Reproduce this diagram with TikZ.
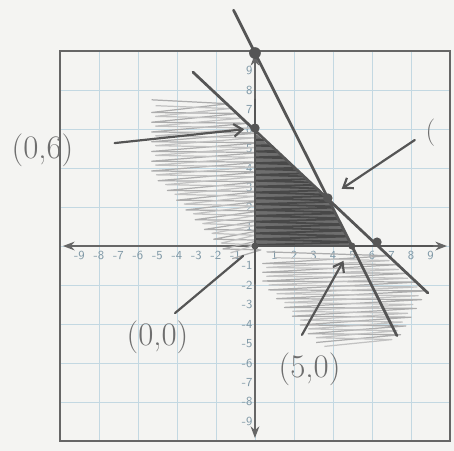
\documentclass[tikz,border=0pt]{standalone}
\usepackage{tikz}
\usetikzlibrary{arrows.meta,positioning,calc}
\definecolor{paper}{HTML}{F4F4F2}
\definecolor{gridblue}{HTML}{C3D8E2}
\definecolor{ticklbl}{HTML}{7F98A6}
\definecolor{pencil}{HTML}{555555}
\definecolor{lightpencil}{HTML}{ADADAD}

\begin{document}
\begin{tikzpicture}[
  x=0.5cm, y=0.5cm,
  font=\sffamily,
  pencil/.style={draw=pencil, line width=2pt, line cap=round},
  scrib/.style={draw=lightpencil, line width=0.9pt, line join=round},
  darkscrib/.style={draw=pencil!85!black, line width=1.3pt, line join=round},
  dot/.style={circle, fill=pencil, inner sep=0pt, minimum size=2.4mm},
  tick/.style={text=ticklbl, font=\sffamily\fontsize{9}{10}\selectfont, inner sep=1pt},
  hand/.style={text=pencil!85, font=\fontsize{24}{28}\selectfont},
  arr/.style={draw=pencil, -{Straight Barb[length=2.2mm,width=3.2mm]}, line width=1.6pt, line cap=round}
]
  \useasboundingbox[fill=paper] (-13.08,-10.51) rectangle (10.21,12.62);
  % printed grid and axes
  \draw[gridblue, line width=0.6pt] (-10,-10) grid (10,10);
  \draw[pencil!90, line width=1.3pt] (-10,-10) rectangle (10,10);
  \draw[pencil!90, line width=1pt, {Stealth[length=3mm]}-{Stealth[length=3mm]}] (-9.85,0) -- (9.85,0);
  \draw[pencil!90, line width=1pt, {Stealth[length=3mm]}-{Stealth[length=3mm]}] (0,9.85) -- (0,-9.85);
  \foreach \i in {-9,...,-1,1,2,...,9} {
    \node[tick] at (\i,-0.5) {\i};
    \node[tick, anchor=east] at (-0.05,\i) {\i};
  }

  % light shading (two passes)
  \draw[scrib] (-5.3,7.5) \foreach \y in {7.3,6.8,...,-0.3} {
    -- ({min((6-\y)/0.94,0.3)},\y) -- ({max(-5.3,-1.5-0.95*(\y-0.15))},{\y-0.45}) };
  \draw[scrib, lightpencil!70!paper] (-5.1,7.2) \foreach \y in {7.05,6.55,...,-0.3} {
    -- ({min((6-\y)/0.94,0.2)-0.2},\y) -- ({max(-5.1,-1.3-0.95*(\y-0.1))},{\y-0.4}) };
  \draw[scrib] (0.6,-0.3) \foreach \y in {-0.5,-0.95,...,-4.7} {
    -- ({min((6-\y)/0.94,8.7+(\y+2.5)*0.6)},\y) -- ({max(0.4,0.3+0.9*(-1.4-\y))},{\y-0.4}) };
  \draw[scrib, lightpencil!70!paper] (1.0,-0.6) \foreach \y in {-0.75,-1.2,...,-4.9} {
    -- ({min((6-\y)/0.94,8.7+(\y+2.5)*0.6)-0.3},\y) -- ({max(0.6,0.5+0.9*(-1.4-\y))},{\y-0.35}) };

  % dark shading
  \fill[pencil!85] (0,0) -- (0,5.8) -- (3.74,2.46) -- (4.97,0) -- cycle;
  \begin{scope}
    \clip (0,-0.1) -- (0,5.9) -- (3.74,2.5) -- (5.05,-0.1) -- cycle;
    \draw[darkscrib] (0,5.8) \foreach \y in {5.6,5.3,...,0} {
      -- (5.2,\y) -- (-0.1,{\y-0.15}) };
  \end{scope}

  % pencil lines
  \coordinate (s1) at (-1.1,12.1);
  \coordinate (e1) at (7.28,-4.6);
  \coordinate (s2) at (-3.18,8.92);
  \coordinate (e2) at (8.87,-2.41);
  \draw[pencil] (s1) -- (e1);
  \draw[pencil] (s2) -- (e2);
  \draw[pencil] (0,7.5) -- (0,-1.9);
  \draw[pencil] (0,0) -- (9.1,0);

  % points
  \node[dot, minimum size=3mm] (p10) at (0,9.9) {};
  \node[dot] (p06) at (0,6.05) {};
  \node[dot] (pint) at (3.74,2.46) {};
  \node[dot] (p60) at (6.26,0.2) {};
  \node[dot, minimum size=1.8mm] (p50) at (4.97,0) {};
  \node[dot, minimum size=1.8mm] (po) at (0,0) {};

  % labels
  \node[hand] (l06) at (-10.9,4.9) {(0,6)};
  \node[hand] (l00) at (-5.0,-4.7) {(0,0)};
  \node[hand] (l50) at (2.8,-6.3) {(5,0)};
  \node[hand, font=\fontsize{20}{24}\selectfont] (lc) at (9.0,5.8) {(};

  \coordinate (t06) at (-7.2,5.28);
  \coordinate (t00) at (-4.1,-3.44);
  \coordinate (t50) at (2.41,-4.56);
  \coordinate (tc) at (8.2,5.44);
  \draw[arr, shorten >=1.5mm] (t06) -- (p06);
  \draw[pencil, line width=1.6pt, shorten >=3mm] (t00) -- (po);
  \draw[arr, shorten >=3.4mm] (t50) -- (p50);
  \draw[arr, shorten >=3mm] (tc) -- (pint);
\end{tikzpicture}
\end{document}
